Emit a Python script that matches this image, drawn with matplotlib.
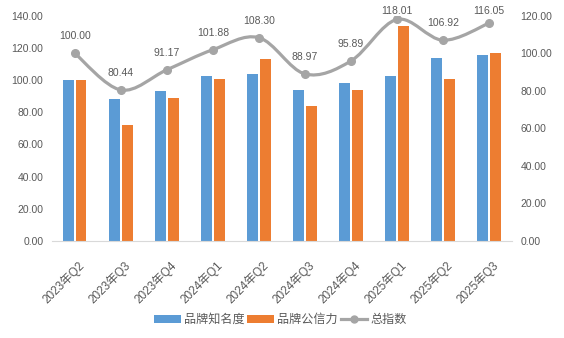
import numpy as np
import matplotlib.pyplot as plt
import matplotlib.transforms as mtransforms
from matplotlib.path import Path
from matplotlib.patches import PathPatch, Patch
from matplotlib.lines import Line2D

plt.rcParams['font.family'] = ['Liberation Sans', 'Noto Sans CJK SC']

quarters = ['2023年Q2', '2023年Q3', '2023年Q4', '2024年Q1', '2024年Q2',
            '2024年Q3', '2024年Q4', '2025年Q1', '2025年Q2', '2025年Q3']
awareness = [100.0, 88.2, 93.2, 102.5, 103.7, 93.8, 98.1, 102.5, 113.7, 115.5]
credibility = [100.0, 72.0, 88.8, 100.6, 113.1, 83.8, 93.8, 133.6, 100.6, 117.0]
total_index = [100.00, 80.44, 91.17, 101.88, 108.30, 88.97, 95.89, 118.01, 106.92, 116.05]

BLUE = '#5B9BD5'
ORANGE = '#ED7D31'
GRAY = '#A5A5A5'
TXT = '#595959'

fig = plt.figure(figsize=(5.64, 3.38), dpi=100)
ax = fig.add_axes([0.0917, 0.287, 0.8163, 0.6666])
ax2 = ax.twinx()

x = np.arange(len(quarters))
w = 0.23
ax.bar(x - 0.14, awareness, w, color=BLUE, label='品牌知名度')
ax.bar(x + 0.14, credibility, w, color=ORANGE, label='品牌公信力')

ax.set_xlim(-0.5, len(quarters) - 0.5)
ax.set_ylim(0, 140)
ax.set_yticks(np.arange(0, 141, 20))
ax.set_yticklabels(['%.2f' % v for v in np.arange(0, 141, 20)])
ax2.set_ylim(0, 120)
ax2.set_yticks(np.arange(0, 121, 20))
ax2.set_yticklabels(['%.2f' % v for v in np.arange(0, 121, 20)])

for a in (ax, ax2):
    for s in ['top', 'left', 'right']:
        a.spines[s].set_visible(False)
    a.spines['bottom'].set_color('#D9D9D9')
    a.tick_params(length=0, labelsize=7.5, colors=TXT)
ax.tick_params(axis='y', pad=6)
ax2.tick_params(axis='y', pad=6)
ax2.spines['bottom'].set_visible(False)

ax.set_xticks(x)
ax.set_xticklabels(quarters, rotation=45, ha='right', va='top',
                   rotation_mode='anchor', fontsize=8.5, color=TXT)
ax.tick_params(axis='x', pad=13)
shift = mtransforms.ScaledTranslation(3 / 100, 0, fig.dpi_scale_trans)
for lab in ax.get_xticklabels():
    lab.set_transform(lab.get_transform() + shift)

# smoothed line (Excel-style bezier through the points)
pts = np.column_stack([x, total_index]).astype(float)
verts = [tuple(pts[0])]
codes = [Path.MOVETO]
n = len(pts)
for i in range(n - 1):
    p0 = pts[max(i - 1, 0)]
    p1 = pts[i]
    p2 = pts[i + 1]
    p3 = pts[min(i + 2, n - 1)]
    c1 = p1 + (p2 - p0) / 6.0
    c2 = p2 - (p3 - p1) / 6.0
    verts += [tuple(c1), tuple(c2), tuple(p2)]
    codes += [Path.CURVE4] * 3
ax2.add_patch(PathPatch(Path(verts, codes), facecolor='none', edgecolor=GRAY,
                        lw=2.3, capstyle='round', joinstyle='round'))
ax2.plot(x, total_index, 'o', color=GRAY, ms=5.5)

fig.canvas.draw()
fig_h = fig.bbox.height
for xi, v in zip(x, total_index):
    px, py = ax2.transData.transform((xi, v))
    ly = min(py + 17, fig_h - 11.5)
    fig.text(px / fig.bbox.width, ly / fig_h, '%.2f' % v, ha='center', va='center',
             fontsize=7.5, color=TXT)

handles = [Patch(facecolor=BLUE), Patch(facecolor=ORANGE),
           Line2D([0], [0], color=GRAY, lw=2.3, marker='o', ms=5)]
fig.legend(handles, ['品牌知名度', '品牌公信力', '总指数'], loc='center',
           bbox_to_anchor=(0.497, 0.053), ncol=3, frameon=False, fontsize=8.7,
           handlelength=2.2, handleheight=0.58, handletextpad=0.25,
           columnspacing=0.25, labelcolor=TXT)

fig.savefig('out.png', dpi=100)
